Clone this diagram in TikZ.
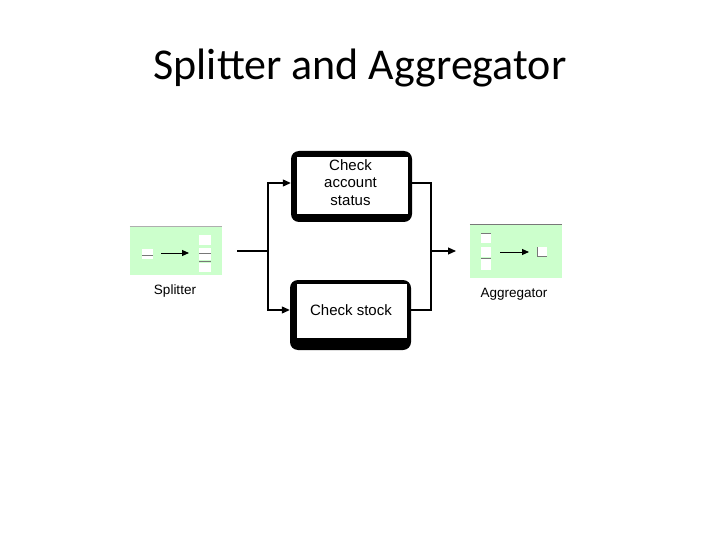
\documentclass[tikz,border=0pt]{standalone}
\usepackage{fontspec}
\setmainfont{Liberation Sans}
\newfontfamily\titlefont{Carlito}
\usetikzlibrary{arrows.meta}
\definecolor{palegreen}{RGB}{204,255,204}
\definecolor{minigray}{RGB}{120,120,120}
\begin{document}
\begin{tikzpicture}[x=1pt,y=-1pt,
  greenbox/.style={fill=palegreen, draw=none, inner sep=0pt},
  shadowbg/.style={fill=black, draw=none, rounded corners=8pt},
  procbox/.style={fill=white, draw=none, inner sep=0pt},
  proctext/.style={inner sep=0pt, align=center, font=\fontsize{15}{17.5}\selectfont},
  conn/.style={line width=1.1pt, black},
  tip/.style={-{Triangle[length=8pt,width=7pt]}},
  minitip/.style={-{Triangle[length=7pt,width=6pt]}},
  lbl/.style={font=\fontsize{13.5}{16}\selectfont, inner sep=0pt},
  mini/.style={fill=white, draw=none},
  miniline/.style={draw=minigray, line width=0.7pt}
]
\useasboundingbox (0,0) rectangle (720,540);
\fill[white] (0,0) rectangle (720,540);

% title
\node[font=\titlefont\fontsize{44}{50}\selectfont, inner sep=0pt] (title) at (360,68) {Splitter and Aggregator};

% splitter
\node[greenbox, minimum width=92pt, minimum height=48pt] (split) at (176,251) {};
\draw[draw=minigray!60, line width=0.6pt] (split.north west) -- (split.north east);
\fill[mini] (142,249) rectangle (153,259);
\draw[miniline] (142,255) -- (153,255);
\fill[mini] (199,235) rectangle (211,245);
\fill[mini] (199,248) rectangle (211,260);
\fill[mini] (199,263) rectangle (211,272);
\draw[miniline] (199,253) -- (211,253);
\draw[miniline] (199,261) -- (211,261);
\coordinate (sa) at (161,253);
\coordinate (sb) at (189,253);
\draw[line width=0.9pt, minitip] (sa) -- (sb);
\node[lbl] (splitlbl) at (175,291) {Splitter};

% aggregator
\node[greenbox, minimum width=92pt, minimum height=53pt] (agg) at (516,251.5) {};
\draw[draw=minigray, line width=0.7pt] (agg.north west) -- (agg.north east);
\fill[mini] (481,233) rectangle (491,243);
\fill[mini] (481,247) rectangle (491,257);
\fill[mini] (481,259) rectangle (491,270);
\draw[miniline] (481,233) -- (491,233);
\draw[miniline] (481,258) -- (491,258);
\fill[mini] (537,247) rectangle (547,256);
\draw[miniline] (537,247) -- (537,256) -- (547,256);
\coordinate (aa) at (500,252);
\coordinate (ab) at (529,252);
\draw[line width=0.9pt, minitip] (aa) -- (ab);
\node[lbl] (agglbl) at (514,294) {Aggregator};

% process boxes
\node[shadowbg, minimum width=121pt, minimum height=71pt, inner sep=0pt] (acctbg) at (351.5,186.5) {};
\node[procbox, minimum width=111pt, minimum height=57pt] (acct) at (352.5,185.5) {};
\node[proctext] (accttext) at (350.5,182.5) {Check\\account\\status};
\node[shadowbg, minimum width=121pt, minimum height=70pt, inner sep=0pt] (stockbg) at (350.5,315) {};
\node[procbox, minimum width=110pt, minimum height=54pt] (stock) at (352,311) {};
\node[proctext] (stocktext) at (351,310) {Check stock};

% connectors
\coordinate (sout) at (237,251);
\coordinate (sj) at (268,251);
\coordinate (aj) at (431,251);
\coordinate (ain) at (456,251);
\draw[conn] (sout) -- (sj);
\draw[conn, tip] (sj) |- (acctbg.west |- 0,183);
\draw[conn, tip] (sj) |- (stockbg.west |- 0,310);
\draw[conn] (acctbg.east |- 0,183) -| (aj);
\draw[conn] (stockbg.east |- 0,310) -| (aj);
\draw[conn, tip] (aj) -- (ain);
\end{tikzpicture}
\end{document}
